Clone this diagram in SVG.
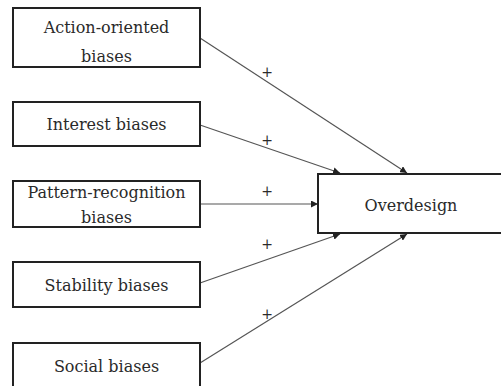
<svg xmlns="http://www.w3.org/2000/svg" width="501" height="386" viewBox="0 0 501 386">
<style>
.box{fill:#fff;stroke:#222;stroke-width:2}
.c{stroke:#555;stroke-width:1.2;fill:none;marker-end:url(#ah)}
.f{font-family:'DejaVu Serif','Liberation Serif',serif;fill:#2a2a2a;text-anchor:middle}
</style>
<defs>
<marker id="ah" viewBox="0 0 10 10" refX="10" refY="5" markerWidth="7" markerHeight="7" markerUnits="userSpaceOnUse" orient="auto">
<path d="M0,0 L10,5 L0,10 z" fill="#222"/>
</marker>
</defs>
<rect width="501" height="386" fill="#fff"/>
<g id="connectors">
<line class="c" x1="200" y1="38" x2="407" y2="173"/>
<line class="c" x1="200" y1="125" x2="340" y2="173"/>
<line class="c" x1="200" y1="204" x2="318" y2="204"/>
<line class="c" x1="200" y1="283" x2="340" y2="234"/>
<line class="c" x1="200" y1="363" x2="407" y2="234"/>
<g class="f" font-size="14">
<text x="267" y="77">+</text>
<text x="267" y="145">+</text>
<text x="267" y="196">+</text>
<text x="267" y="249">+</text>
<text x="267" y="319">+</text>
</g>
</g>
<g class="f" font-size="16">
<g id="action">
<rect class="box" x="13" y="8" width="187" height="59"/>
<text x="106.5" y="33">Action-oriented</text>
<text x="106.5" y="62">biases</text>
</g>
<g id="interest">
<rect class="box" x="13" y="102" width="187" height="44"/>
<text x="106.5" y="130">Interest biases</text>
</g>
<g id="pattern">
<rect class="box" x="13" y="181" width="187" height="46"/>
<text x="106.5" y="198">Pattern-recognition</text>
<text x="106.5" y="223">biases</text>
</g>
<g id="stability">
<rect class="box" x="13" y="262" width="187" height="45"/>
<text x="106.5" y="291">Stability biases</text>
</g>
<g id="social">
<rect class="box" x="13" y="343" width="187" height="46"/>
<text x="106.5" y="372">Social biases</text>
</g>
<g id="overdesign">
<rect class="box" x="318" y="174" width="186" height="59"/>
<text x="411" y="211">Overdesign</text>
</g>
</g>
</svg>
